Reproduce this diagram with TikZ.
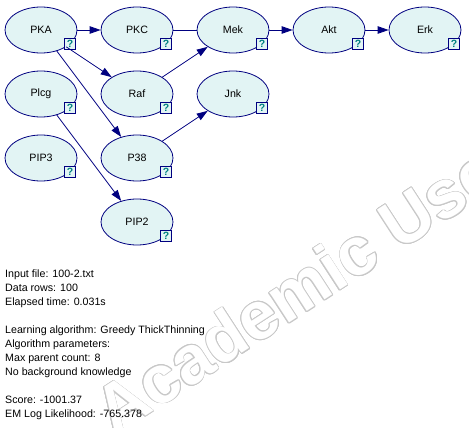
\documentclass[tikz,border=0pt]{standalone}
\usepackage{fontspec}
\setmainfont{Liberation Sans}
\usetikzlibrary{shapes.geometric,arrows.meta,calc}
\definecolor{navy}{RGB}{0,0,128}
\definecolor{nodefill}{RGB}{226,244,244}
\definecolor{qteal}{RGB}{0,128,128}
\definecolor{wmgray}{RGB}{200,200,200}
\newcommand\bnode[3]{\node[bn] (#1) at (#2) {#3};
  \node[qbox] (#1q) at ([shift={(29,14)}]#1.center) {?};}
\begin{document}
\begin{tikzpicture}[x=1pt,y=-1pt,
 bn/.style={ellipse,draw=navy,fill=nodefill,line width=0.8pt,minimum width=72pt,minimum height=46pt,inner sep=0pt,font=\fontsize{10.67}{12}\selectfont},
 qbox/.style={draw=navy,fill=nodefill,line width=0.8pt,minimum size=10.5pt,inner sep=0pt,font=\fontsize{10.5}{10.5}\selectfont\bfseries,text=qteal},
 arr/.style={draw=navy,line width=0.8pt,-{Triangle[length=11pt,width=7.5pt]}},
 lnk/.style={draw=navy,line width=0.8pt},
 infotxt/.style={anchor=base west,inner sep=0pt,font=\fontsize{10.67}{14}\selectfont},
 wm/.style={anchor=base west,inner sep=0pt,rotate=33,font=\fontsize{68}{68}\selectfont\bfseries}
]
\useasboundingbox (0,0) rectangle (469,428);
% watermark
\coordinate (wmstart) at (114,437);
\foreach \a [count=\i] in {0,22.5,...,337.5}
  \node[wm,text=wmgray] (wm\i) at ($(wmstart)+(\a:0.8)$) {Academic Use};
\node[wm,text=white] (wm) at (wmstart) {Academic Use};
% nodes
\bnode{pka}{41,30}{PKA}
\bnode{pkc}{137,30}{PKC}
\bnode{mek}{233,30}{Mek}
\bnode{akt}{329,30}{Akt}
\bnode{erk}{425,30}{Erk}
\bnode{plcg}{41,94}{Plcg}
\bnode{raf}{137,94}{Raf}
\bnode{jnk}{233,94}{Jnk}
\bnode{pip3}{41,158}{PIP3}
\bnode{p38}{137,158}{P38}
\bnode{pip2}{137,222}{PIP2}
% edges
\draw[arr] (pka) -- (pkc);
\draw[lnk] (pkc) -- (mek);
\draw[arr] (mek) -- (akt);
\draw[arr] (akt) -- (erk);
\draw[arr] (pka) -- (raf);
\draw[arr] (pka) -- (p38);
\draw[arr] (raf) -- (mek);
\draw[arr] (p38) -- (jnk);
\draw[arr] (plcg) -- (pip2);
% info text
\foreach \y/\t in {277/Input file: 100-2.txt, 291/Data rows: 100, 305/Elapsed time: 0.031s,
  333/Learning algorithm: Greedy ThickThinning, 347/Algorithm parameters:, 361/Max parent count: 8,
  375/No background knowledge, 403/Score: -1001.37, 417/EM Log Likelihood: -765.378}
  \node[infotxt] (info\y) at (5,\y) {\t};
\end{tikzpicture}
\end{document}
